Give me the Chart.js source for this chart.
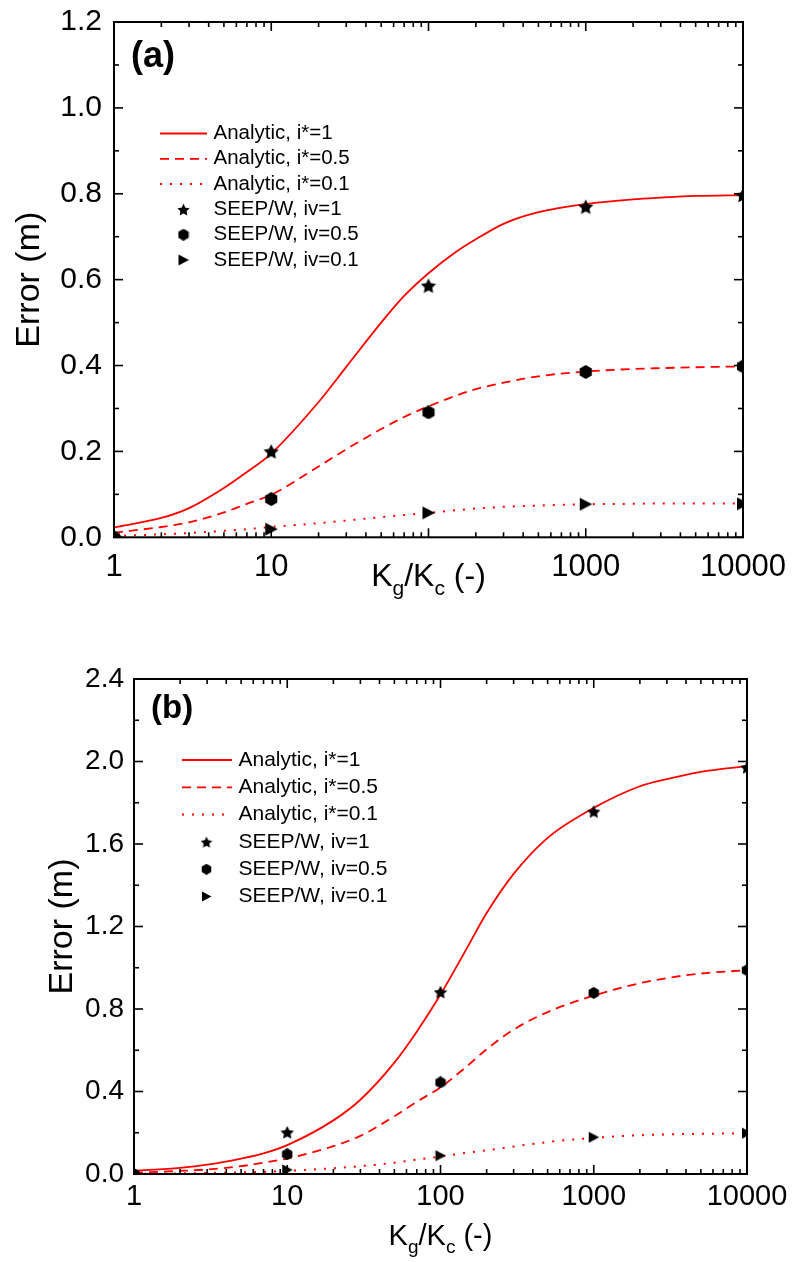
<!DOCTYPE html>
<html>
<head>
<meta charset="utf-8">
<title>Error vs Kg/Kc</title>
<script src="https://cdn.jsdelivr.net/npm/chart.js@4.4.0/dist/chart.umd.min.js"></script>
<style>
  html, body { margin: 0; padding: 0; background: #fff; }
  body { width: 795px; height: 1262px; position: relative; overflow: hidden; }
  .panel { position: absolute; left: 0; width: 795px; }
  #wrapA { top: 0; height: 635px; }
  #wrapB { top: 635px; height: 627px; }
</style>
</head>
<body>
<div class="panel" id="wrapA"><canvas id="chartA" width="795" height="635"></canvas></div>
<div class="panel" id="wrapB"><canvas id="chartB" width="795" height="627"></canvas></div>
<script>
// Kg/Kc values where the analytic curves were read
const curveX = [1, 2, 3, 5, 7, 10, 20, 30, 50, 70, 100, 150, 200, 300, 500, 1000, 2000, 3000, 5000, 10000];

// panel (a) analytic curves
const analyticA1 = [0.023, 0.045, 0.068, 0.115, 0.152, 0.195, 0.315, 0.397, 0.500, 0.562, 0.615, 0.665, 0.694, 0.730, 0.757, 0.776, 0.787, 0.791, 0.795, 0.797];
const analyticA05 = [0.011, 0.024, 0.035, 0.058, 0.078, 0.099, 0.165, 0.205, 0.252, 0.280, 0.305, 0.330, 0.345, 0.360, 0.375, 0.386, 0.392, 0.394, 0.396, 0.398];
const analyticA01 = [0.003, 0.007, 0.010, 0.015, 0.019, 0.024, 0.033, 0.039, 0.047, 0.052, 0.057, 0.063, 0.067, 0.071, 0.074, 0.077, 0.078, 0.079, 0.079, 0.079];

// panel (b) analytic curves
const analyticB1 = [0.016, 0.030, 0.045, 0.075, 0.100, 0.140, 0.260, 0.360, 0.540, 0.690, 0.870, 1.100, 1.265, 1.455, 1.630, 1.775, 1.880, 1.915, 1.950, 1.978];
const analyticB05 = [0.006, 0.015, 0.022, 0.038, 0.055, 0.075, 0.135, 0.185, 0.280, 0.350, 0.420, 0.525, 0.605, 0.700, 0.785, 0.865, 0.925, 0.950, 0.972, 0.988];
const analyticB01 = [0.001, 0.003, 0.005, 0.008, 0.011, 0.015, 0.028, 0.038, 0.055, 0.070, 0.085, 0.103, 0.115, 0.133, 0.155, 0.175, 0.188, 0.192, 0.195, 0.197];

// SEEP/W results
const seepX = [1, 10, 100, 1000, 10000];
const seepA1 = [0, 0.200, 0.586, 0.770, 0.797];
const seepA05 = [0, 0.089, 0.291, 0.385, 0.398];
const seepA01 = [0, 0.019, 0.057, 0.077, 0.078];
const seepB1 = [0, 0.203, 0.883, 1.758, 1.972];
const seepB05 = [0, 0.096, 0.444, 0.878, 0.988];
const seepB01 = [0, 0.020, 0.089, 0.178, 0.198];

const legendLabels = ['Analytic, i*=1', 'Analytic, i*=0.5', 'Analytic, i*=0.1',
  'SEEP/W, iv=1', 'SEEP/W, iv=0.5', 'SEEP/W, iv=0.1'];
// in panel (a) the axis title sits where the "100" label would be
const xTickLabelsA = ['1', '10', '', '1000', '10000'];
const xTickLabelsB = ['1', '10', '100', '1000', '10000'];
const yTitle = 'Error (m)';

const FONT = "'Liberation Sans', Arial, Helvetica, sans-serif";

// filled black markers (star, hexagon, right triangle)
function marker(shape, size) {
  const c = document.createElement('canvas');
  c.width = size; c.height = size;
  const g = c.getContext('2d');
  const r = size / 2;
  g.fillStyle = '#000';
  g.beginPath();
  if (shape === 'star') {
    for (let k = 0; k < 10; k++) {
      const rr = k % 2 ? r * 0.5 : r;
      const a = -Math.PI / 2 + k * Math.PI / 5;
      g.lineTo(r + rr * Math.cos(a), r + 0.8 + rr * Math.sin(a));
    }
  } else if (shape === 'hex') {
    for (let k = 0; k < 6; k++) {
      const a = -Math.PI / 2 + k * Math.PI / 3;
      g.lineTo(r + r * Math.cos(a), r + r * Math.sin(a));
    }
  } else {
    g.moveTo(1, 0.5);
    g.lineTo(size - 0.5, r);
    g.lineTo(1, size - 0.5);
  }
  g.closePath();
  g.fill();
  return c;
}

function buildDatasets(curves, seep, marks) {
  const dashes = [[], [9, 6], [2, 8]];
  const ds = curves.map((ys, i) => ({
    label: legendLabels[i],
    data: curveX.map((x, k) => ({ x: x, y: ys[k] })),
    borderColor: '#ff0000',
    backgroundColor: '#ff0000',
    borderWidth: i === 2 ? 2 : 1.8,
    borderDash: dashes[i],
    pointRadius: 0,
    cubicInterpolationMode: 'monotone',
    fill: false,
    order: 1
  }));
  seep.forEach((ys, i) => ds.push({
    label: legendLabels[3 + i],
    data: seepX.map((x, k) => ({ x: x, y: ys[k] })),
    showLine: false,
    pointStyle: marks[i],
    pointRadius: 6,
    clip: 0,
    order: 0
  }));
  return ds;
}

// inward ticks on all four sides plus the box
const framePlugin = {
  id: 'frame',
  afterDatasetsDraw(chart, args, o) {
    const { ctx, chartArea: a, scales } = chart;
    const x = scales.x, y = scales.y;
    ctx.save();
    ctx.strokeStyle = '#000';
    ctx.lineWidth = 1.6;
    const seg = (x1, y1, x2, y2) => { ctx.beginPath(); ctx.moveTo(x1, y1); ctx.lineTo(x2, y2); ctx.stroke(); };
    for (let d = 1; d <= 10000; d *= 10) {
      for (let m = 1; m <= 9; m++) {
        const v = d * m;
        if (v > 10000) break;
        const px = x.getPixelForValue(v);
        const len = m === 1 ? o.major : o.minor;
        seg(px, a.bottom, px, a.bottom - len);
        seg(px, a.top, px, a.top + len);
      }
    }
    const n = Math.round(o.yMax / o.yMinor);
    for (let i = 0; i <= n; i++) {
      const py = y.getPixelForValue(i * o.yMinor);
      const len = i % 2 === 0 ? o.major : o.minor;
      seg(a.left, py, a.left + len, py);
      seg(a.right, py, a.right - len, py);
    }
    ctx.lineWidth = 2;
    ctx.strokeRect(a.left, a.top, a.right - a.left, a.bottom - a.top);
    ctx.restore();
  }
};

// legend inside the plot
const legendPlugin = {
  id: 'innerLegend',
  afterDraw(chart, args, o) {
    const ctx = chart.ctx;
    ctx.save();
    ctx.font = o.size + 'px ' + FONT;
    ctx.textBaseline = 'middle';
    ctx.fillStyle = '#000';
    chart.data.datasets.forEach((ds, i) => {
      const yy = o.top + i * o.gap;
      if (ds.showLine === false) {
        const img = o.marks[i - 3];
        ctx.drawImage(img, o.markX - img.width / 2, yy - img.height / 2);
      } else {
        ctx.save();
        ctx.strokeStyle = ds.borderColor;
        ctx.lineWidth = ds.borderWidth;
        ctx.setLineDash(ds.borderDash);
        ctx.beginPath();
        ctx.moveTo(o.lineX1, yy);
        ctx.lineTo(o.lineX2, yy);
        ctx.stroke();
        ctx.restore();
      }
      ctx.fillText(ds.label, o.textX, yy);
    });
    ctx.restore();
  }
};

// panel letter and x-axis title with subscripts
const textPlugin = {
  id: 'annot',
  afterDraw(chart, args, o) {
    const { ctx, chartArea: a } = chart;
    ctx.save();
    ctx.fillStyle = '#000';
    ctx.textBaseline = 'alphabetic';
    ctx.font = 'bold ' + o.panelSize + 'px ' + FONT;
    ctx.fillText(o.panel, o.panelX, o.panelY);
    const parts = [['K', 0], ['g', 1], ['/K', 0], ['c', 1], [' (-)', 0]];
    const big = o.titleSize + 'px ' + FONT;
    const small = Math.round(o.titleSize * 0.66) + 'px ' + FONT;
    let w = 0;
    parts.forEach(p => { ctx.font = p[1] ? small : big; w += ctx.measureText(p[0]).width; });
    let cx = (a.left + a.right) / 2 - w / 2;
    parts.forEach(p => {
      ctx.font = p[1] ? small : big;
      ctx.fillText(p[0], cx, o.titleY + (p[1] ? o.titleSize * 0.27 : 0));
      cx += ctx.measureText(p[0]).width;
    });
    ctx.restore();
  }
};

function makeChart(id, cfg) {
  const isPow10 = v => Math.abs(Math.log10(v) - Math.round(Math.log10(v))) < 1e-9;
  return new Chart(document.getElementById(id), {
    type: 'line',
    data: { datasets: buildDatasets(cfg.curves, cfg.seep, cfg.marks) },
    plugins: [framePlugin, legendPlugin, textPlugin],
    options: {
      responsive: false,
      animation: false,
      events: [],
      layout: { padding: cfg.padding },
      scales: {
        x: {
          type: 'logarithmic',
          min: 1,
          max: 10000,
          grid: { display: false, drawTicks: false },
          border: { display: false },
          ticks: {
            autoSkip: false,
            maxRotation: 0,
            padding: cfg.xPad,
            color: '#000',
            font: { family: FONT, size: cfg.xTickSize },
            callback: v => isPow10(v) ? cfg.xLabels[Math.round(Math.log10(v))] : ''
          },
          afterFit: s => { s.height = cfg.xHeight; s.paddingLeft = 0; s.paddingRight = 0; }
        },
        y: {
          min: 0,
          max: cfg.yMax,
          grid: { display: false, drawTicks: false },
          border: { display: false },
          ticks: {
            stepSize: cfg.yStep,
            padding: cfg.yPad,
            color: '#000',
            font: { family: FONT, size: cfg.yTickSize },
            callback: v => v.toFixed(1)
          },
          title: {
            display: true,
            text: yTitle,
            color: '#000',
            font: { family: FONT, size: cfg.yTitleSize },
            padding: { top: cfg.yTitlePad, bottom: 0 }
          },
          afterFit: s => { s.width = cfg.yWidth; s.paddingTop = 0; s.paddingBottom = 0; }
        }
      },
      plugins: {
        legend: { display: false },
        tooltip: { enabled: false },
        frame: { major: 9, minor: 5, yMax: cfg.yMax, yMinor: cfg.yStep / 2 },
        innerLegend: cfg.legend,
        annot: cfg.text
      }
    }
  });
}

const marksA = [marker('star', 16), marker('hex', 14), marker('tri', 14)];
const marksB = [marker('star', 14), marker('hex', 12), marker('tri', 12)];

makeChart('chartA', {
  curves: [analyticA1, analyticA05, analyticA01],
  seep: [seepA1, seepA05, seepA01],
  marks: marksA,
  xLabels: xTickLabelsA,
  padding: { top: 22, right: 52, left: 0, bottom: 0 },
  yMax: 1.2, yStep: 0.2,
  xHeight: 97.7, yWidth: 114,
  xPad: 12, yPad: 12,
  xTickSize: 31, yTickSize: 30,
  yTitleSize: 34, yTitlePad: 9,
  legend: { size: 20.5, top: 133.5, gap: 25.3, lineX1: 160, lineX2: 207, markX: 183.5, textX: 213.5,
    marks: [marker('star', 13), marker('hex', 12), marker('tri', 12)] },
  text: { panel: '(a)', panelSize: 36, panelX: 131, panelY: 67, titleSize: 32, titleY: 586 }
});

makeChart('chartB', {
  curves: [analyticB1, analyticB05, analyticB01],
  seep: [seepB1, seepB05, seepB01],
  marks: marksB,
  xLabels: xTickLabelsB,
  padding: { top: 44, right: 48, left: 0, bottom: 0 },
  yMax: 2.4, yStep: 0.4,
  xHeight: 88, yWidth: 134,
  xPad: 6, yPad: 10,
  xTickSize: 29, yTickSize: 28,
  yTitleSize: 34, yTitlePad: 42,
  legend: { size: 21, top: 125, gap: 27.3, lineX1: 182, lineX2: 232, markX: 206.5, textX: 238.5,
    marks: [marker('star', 12), marker('hex', 11), marker('tri', 11)] },
  text: { panel: '(b)', panelSize: 33, panelX: 151, panelY: 83, titleSize: 29, titleY: 610 }
});
</script>
</body>
</html>
